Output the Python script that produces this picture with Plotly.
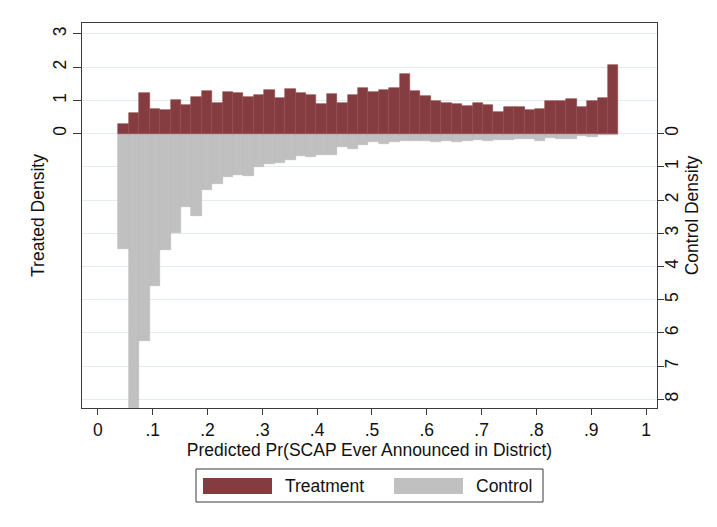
import plotly.graph_objects as go

# Histogram bins of the predicted probability (48 equal-width bins)
bin_start = 0.0375
bin_width = 0.019
n_bins = 48

# Density per bin, treated districts
treatment = [0.30, 0.62, 1.23, 0.74, 0.72, 1.02, 0.87, 1.11, 1.27, 0.93, 1.24, 1.22,
             1.11, 1.15, 1.31, 1.06, 1.34, 1.21, 1.17, 0.89, 1.19, 0.93, 1.15, 1.36,
             1.24, 1.32, 1.38, 1.80, 1.29, 1.14, 0.97, 0.92, 0.89, 0.82, 0.91, 0.85,
             0.66, 0.80, 0.80, 0.72, 0.74, 0.98, 0.98, 1.04, 0.80, 0.98, 1.08, 2.07]

# Density per bin, control districts (drawn downward)
control = [3.46, 8.26, 6.25, 4.59, 3.51, 2.98, 2.20, 2.48, 1.71, 1.53, 1.31, 1.26,
           1.28, 0.99, 0.90, 0.89, 0.78, 0.66, 0.69, 0.63, 0.63, 0.40, 0.45, 0.34,
           0.26, 0.31, 0.25, 0.22, 0.21, 0.21, 0.24, 0.21, 0.24, 0.21, 0.19, 0.23,
           0.19, 0.19, 0.16, 0.16, 0.23, 0.14, 0.15, 0.17, 0.07, 0.09, 0.04, 0.03]

series_names = ["Treatment", "Control"]
colors = ["#853c40", "#c0c0c0"]
edge_colors = ["#8f4a4d", "#b9b9b9"]

x_ticks = [0, 0.1, 0.2, 0.3, 0.4, 0.5, 0.6, 0.7, 0.8, 0.9, 1]
x_labels = ["0", ".1", ".2", ".3", ".4", ".5", ".6", ".7", ".8", ".9", "1"]
treated_ticks = [0, 1, 2, 3]
control_ticks = [0, 1, 2, 3, 4, 5, 6, 7, 8]

centers = [bin_start + bin_width * (i + 0.5) for i in range(n_bins)]

y_range = [-8.26, 3.33]
x_range = [-0.029, 1.02]

fig = go.Figure()
fig.add_trace(go.Bar(x=centers, y=[-v for v in control], width=bin_width,
                     name=series_names[1], marker_color=colors[1],
                     marker_line=dict(color=edge_colors[1], width=0.6)))
fig.add_trace(go.Bar(x=centers, y=treatment, width=bin_width,
                     name=series_names[0], marker_color=colors[0],
                     marker_line=dict(color=edge_colors[0], width=0.6)))
# invisible trace so the right-hand axis is drawn
fig.add_trace(go.Scatter(x=[None], y=[None], yaxis="y2", showlegend=False))

font = "Liberation Sans, Arial, Helvetica, sans-serif"
axis_col = "#3a3a3a"
grid_col = "#e4ecee"
fs = 17.5

fig.update_layout(
    width=717, height=527,
    margin=dict(l=82, r=60, t=23, b=119),
    paper_bgcolor="white", plot_bgcolor="white",
    font=dict(family=font, size=fs, color="#111"),
    barmode="overlay", bargap=0, showlegend=False,
    xaxis=dict(range=x_range, tickvals=x_ticks, ticktext=x_labels,
               ticks="outside", ticklen=6, tickcolor=axis_col, tickwidth=1,
               showline=True, linecolor=axis_col, linewidth=1, mirror=True,
               showgrid=False, zeroline=False,
               title=dict(text="Predicted Pr(SCAP Ever Announced in District)",
                          font=dict(size=fs), standoff=2)),
    yaxis=dict(range=y_range, tickvals=treated_ticks,
               ticktext=[str(v) for v in treated_ticks], tickangle=-90,
               ticks="outside", ticklen=8, tickcolor=axis_col, tickwidth=1,
               showline=True, linecolor=axis_col, linewidth=1,
               showgrid=True, gridcolor=grid_col, gridwidth=1, zeroline=False,
               title=dict(text="Treated Density", font=dict(size=fs), standoff=0)),
    yaxis2=dict(range=y_range, overlaying="y", side="right",
                tickvals=[-v for v in control_ticks],
                ticktext=[str(v) for v in control_ticks], tickangle=-90,
                ticks="outside", ticklen=6, tickcolor=axis_col, tickwidth=1,
                ticklabelstandoff=-7,
                showline=True, linecolor=axis_col, linewidth=1,
                showgrid=True, gridcolor=grid_col, gridwidth=1, zeroline=False,
                title=dict(text="Control Density", font=dict(size=fs), standoff=0)),
)

# Legend drawn as a framed key with wide swatches below the plot
plot_l, plot_w, plot_b, plot_h = 82, 575, 408, 385


def px(x):
    return (x - plot_l) / plot_w


def py(y):
    return (plot_b - y) / plot_h


shapes = [dict(type="rect", xref="paper", yref="paper",
               x0=px(196), x1=px(543), y0=py(502), y1=py(469),
               line=dict(color=axis_col, width=1), fillcolor="white")]
swatches = [(203, 272), (394, 463)]
text_left = [283, 474]
for (sx0, sx1), color, name, tx in zip(swatches, colors, series_names, text_left):
    shapes.append(dict(type="rect", xref="paper", yref="paper",
                       x0=px(sx0), x1=px(sx1), y0=py(494), y1=py(478),
                       line=dict(width=0), fillcolor=color))
    fig.add_annotation(xref="paper", yref="paper", x=px(tx), y=py(486),
                       xanchor="left", yanchor="middle", showarrow=False,
                       text=name, font=dict(size=fs))
fig.update_layout(shapes=shapes)

fig.write_html("out.html")
